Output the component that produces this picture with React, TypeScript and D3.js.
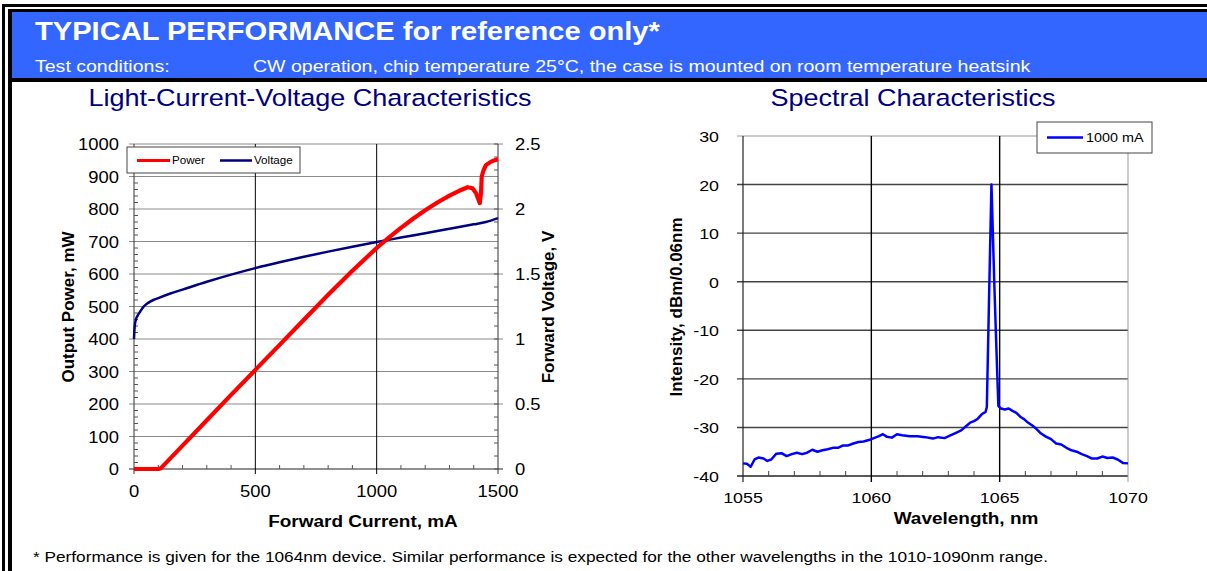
import React, { useEffect, useRef } from 'react';
import * as d3 from 'd3';

// L-I-V data
const currentMa = [0, 20, 50, 100, 110, 200, 300, 400, 500, 600, 700, 800, 900, 1000, 1050, 1100, 1150, 1200, 1250, 1300, 1340, 1375, 1395, 1410, 1425, 1430, 1433, 1440, 1450, 1470, 1490, 1500];
const powerMw = [0, 0, 0, 0, 2, 72, 150, 228, 305, 382, 459, 536, 610, 680, 712, 742, 770, 796, 820, 841, 856, 867, 864, 848, 818, 850, 900, 918, 935, 945, 951, 953];

const voltCurrentMa = [0, 3, 8, 15, 25, 40, 60, 80, 100, 150, 200, 300, 400, 500, 600, 700, 800, 900, 1000, 1100, 1200, 1300, 1400, 1450, 1500];
const voltageV = [1.0, 1.1, 1.15, 1.18, 1.21, 1.25, 1.28, 1.3, 1.315, 1.35, 1.38, 1.44, 1.495, 1.545, 1.59, 1.632, 1.672, 1.71, 1.746, 1.78, 1.814, 1.848, 1.882, 1.9, 1.93];

// spectrum at 1000 mA
const wavelengthNm = [1055.0, 1055.15, 1055.3, 1055.45, 1055.6, 1055.8, 1055.95, 1056.1, 1056.3, 1056.5, 1056.7, 1056.9, 1057.1, 1057.3, 1057.5, 1057.7, 1057.9, 1058.1, 1058.3, 1058.5, 1058.7, 1058.9, 1059.1, 1059.3, 1059.5, 1059.7, 1059.9, 1060.1, 1060.3, 1060.45, 1060.6, 1060.8, 1061.0, 1061.2, 1061.5, 1061.8, 1062.1, 1062.4, 1062.6, 1062.85, 1063.1, 1063.3, 1063.5, 1063.7, 1063.85, 1064.0, 1064.15, 1064.3, 1064.45, 1064.5, 1064.58, 1064.68, 1064.8, 1064.9, 1064.95, 1065.05, 1065.2, 1065.35, 1065.5, 1065.65, 1065.8, 1065.95, 1066.1, 1066.3, 1066.45, 1066.6, 1066.8, 1067.0, 1067.2, 1067.4, 1067.6, 1067.8, 1068.0, 1068.2, 1068.4, 1068.6, 1068.8, 1069.0, 1069.2, 1069.4, 1069.6, 1069.8, 1070.0];
const intensityDbm = [-37.4, -37.5, -38.1, -36.6, -36.2, -36.4, -36.9, -36.6, -35.4, -35.3, -35.9, -35.5, -35.2, -35.5, -35.2, -34.6, -35.0, -34.7, -34.5, -34.2, -34.2, -33.7, -33.7, -33.3, -33.0, -32.9, -32.6, -32.2, -31.8, -31.4, -31.9, -32.1, -31.4, -31.6, -31.8, -31.8, -32.0, -32.3, -32.0, -32.2, -31.6, -31.1, -30.6, -29.7, -29.0, -28.7, -28.2, -27.3, -26.8, -25.8, -5, 20, -2, -18, -25.6, -26.1, -26.3, -26.1, -26.6, -27.0, -27.8, -28.3, -29.0, -29.7, -30.4, -31.2, -31.9, -32.4, -33.3, -33.5, -34.2, -34.7, -35.0, -35.5, -35.9, -36.4, -36.4, -36.0, -36.3, -36.2, -36.6, -37.3, -37.4];

const powerTicks = [0, 100, 200, 300, 400, 500, 600, 700, 800, 900, 1000];
const voltTicks = [0, 0.5, 1, 1.5, 2, 2.5];
const currentTicks = [0, 500, 1000, 1500];
const dbmTicks = [30, 20, 10, 0, -10, -20, -30, -40];
const nmTicks = [1055, 1060, 1065, 1070];

const FONT = 'Arial, "Liberation Sans", sans-serif';
const SX = 1.15; // the picture's text is a bit wide

function txt(g, x, y, s, size, o: any = {}) {
  const rot = o.rot ? ` rotate(${o.rot})` : '';
  const sx = o.rot ? 1 : (o.sx ?? SX);
  return g.append('text')
    .attr('transform', `translate(${x},${y}) scale(${sx},1)${rot}`)
    .attr('font-family', FONT)
    .attr('font-size', size)
    .attr('font-weight', o.bold ? 'bold' : 'normal')
    .attr('fill', o.fill ?? '#000')
    .attr('text-anchor', o.anchor ?? 'start')
    .text(s);
}

function App() {
  const ref = useRef(null);

  useEffect(() => {
    const svg = d3.select(ref.current);
    svg.selectAll('*').remove();
    svg.append('rect').attr('width', 1207).attr('height', 571).attr('fill', '#fff');

    // header band and frame
    svg.append('rect').attr('x', 12).attr('y', 12).attr('width', 1195).attr('height', 66).attr('fill', '#3366FF');
    svg.append('rect').attr('x', 2).attr('y', 4).attr('width', 1205).attr('height', 3).attr('fill', '#000');
    svg.append('rect').attr('x', 8).attr('y', 9).attr('width', 1199).attr('height', 3).attr('fill', '#000');
    svg.append('rect').attr('x', 8).attr('y', 78).attr('width', 1199).attr('height', 4).attr('fill', '#000');
    svg.append('rect').attr('x', 2).attr('y', 4).attr('width', 3).attr('height', 567).attr('fill', '#000');
    svg.append('rect').attr('x', 8).attr('y', 9).attr('width', 4).attr('height', 562).attr('fill', '#000');

    txt(svg, 35, 40, 'TYPICAL PERFORMANCE for reference only*', 25.3, { bold: true, fill: '#fff' });
    txt(svg, 35, 72, 'Test conditions:', 17, { fill: '#fff' });
    txt(svg, 253, 72, 'CW operation, chip temperature 25°C, the case is mounted on room temperature heatsink', 17, { fill: '#fff' });

    txt(svg, 310, 106, 'Light-Current-Voltage Characteristics', 23.5, { fill: '#000080', anchor: 'middle' });
    txt(svg, 913, 106, 'Spectral Characteristics', 23.5, { fill: '#000080', anchor: 'middle' });

    txt(svg, 33, 562, '* Performance is given for the 1064nm device. Similar performance is expected for the other wavelengths in the 1010-1090nm range.', 15);

    // ---------- L-I-V chart ----------
    const x = d3.scaleLinear().domain([0, 1500]).range([134, 498]);
    const yP = d3.scaleLinear().domain([0, 1000]).range([469, 144]);
    const yV = d3.scaleLinear().domain([0, 2.5]).range([469, 144]);
    const g1 = svg.append('g');

    powerTicks.forEach((t) => {
      g1.append('line').attr('x1', x(0) - 5).attr('x2', x(1500) + (t % 200 === 0 ? 5 : 0))
        .attr('y1', yP(t)).attr('y2', yP(t)).attr('stroke', t === 0 ? '#222' : '#8a8a8a').attr('stroke-width', 1);
    });
    [500, 1000].forEach((t) => {
      g1.append('line').attr('x1', x(t)).attr('x2', x(t)).attr('y1', yP(1000)).attr('y2', yP(0) + 5)
        .attr('stroke', '#000').attr('stroke-width', 1);
    });
    // axes
    g1.append('line').attr('x1', x(0)).attr('x2', x(0)).attr('y1', yP(1000)).attr('y2', yP(0) + 5).attr('stroke', '#333');
    g1.append('line').attr('x1', x(1500)).attr('x2', x(1500)).attr('y1', yP(1000)).attr('y2', yP(0) + 5).attr('stroke', '#333');
    // minor ticks
    d3.range(0, 1001, 20).forEach((t) => {
      if (t % 100 !== 0) g1.append('line').attr('x1', x(0)).attr('x2', x(0) + 4).attr('y1', yP(t)).attr('y2', yP(t)).attr('stroke', '#555');
    });
    d3.range(0, 2.51, 0.1).forEach((t) => {
      g1.append('line').attr('x1', x(1500) - 4).attr('x2', x(1500)).attr('y1', yV(t)).attr('y2', yV(t)).attr('stroke', '#555');
    });
    d3.range(100, 1500, 100).forEach((t) => {
      if (t % 500 !== 0) g1.append('line').attr('x1', x(t)).attr('x2', x(t)).attr('y1', yP(0)).attr('y2', yP(0) - 4).attr('stroke', '#555');
    });

    powerTicks.forEach((t) => txt(g1, 119, yP(t) + 6, String(t), 16, { anchor: 'end' }));
    voltTicks.forEach((t) => txt(g1, 515, yV(t) + 6, String(t), 16));
    currentTicks.forEach((t) => txt(g1, x(t), 497, String(t), 16, { anchor: 'middle' }));

    txt(g1, 363, 527, 'Forward Current, mA', 16.5, { bold: true, anchor: 'middle' });
    txt(g1, 74, 307, 'Output Power, mW', 17, { bold: true, anchor: 'middle', rot: -90 });
    txt(g1, 554, 307, 'Forward Voltage, V', 17, { bold: true, anchor: 'middle', rot: -90 });

    const vLine = d3.line<number>().x((d, i) => x(voltCurrentMa[i])).y((d) => yV(d)).curve(d3.curveMonotoneX);
    g1.append('path').attr('d', vLine(voltageV)).attr('fill', 'none').attr('stroke', '#000080').attr('stroke-width', 2.5);
    const pLine = d3.line<number>().x((d, i) => x(currentMa[i])).y((d) => yP(d));
    g1.append('path').attr('d', pLine(powerMw)).attr('fill', 'none').attr('stroke', '#FF0000').attr('stroke-width', 4.2)
      .attr('stroke-linejoin', 'round');

    // legend
    g1.append('rect').attr('x', 127).attr('y', 147).attr('width', 173).attr('height', 26).attr('fill', '#fff').attr('stroke', '#444');
    g1.append('line').attr('x1', 137).attr('x2', 170).attr('y1', 160.5).attr('y2', 160.5).attr('stroke', '#FF0000').attr('stroke-width', 3);
    txt(g1, 172, 164, 'Power', 10.1);
    g1.append('line').attr('x1', 220).attr('x2', 252).attr('y1', 160.5).attr('y2', 160.5).attr('stroke', '#000080').attr('stroke-width', 2.5);
    txt(g1, 254, 164, 'Voltage', 10.1);

    // ---------- spectrum chart ----------
    const xs = d3.scaleLinear().domain([1055, 1070]).range([743, 1128]);
    const ys = d3.scaleLinear().domain([-40, 30]).range([476, 136]);
    const g2 = svg.append('g');

    dbmTicks.forEach((t) => {
      const top = t === 30;
      g2.append('line').attr('x1', xs(1055) - 6).attr('x2', xs(1070)).attr('y1', ys(t)).attr('y2', ys(t))
        .attr('stroke', top ? '#999' : t === -40 ? '#222' : '#444').attr('stroke-width', top ? 1 : 1.4);
    });
    g2.append('line').attr('x1', xs(1070)).attr('x2', xs(1070)).attr('y1', ys(30)).attr('y2', ys(-40) + 6).attr('stroke', '#999');
    [1060, 1065].forEach((t) => {
      g2.append('line').attr('x1', xs(t)).attr('x2', xs(t)).attr('y1', ys(30)).attr('y2', ys(-40) + 6).attr('stroke', '#000').attr('stroke-width', 1.4);
    });
    g2.append('line').attr('x1', xs(1055)).attr('x2', xs(1055)).attr('y1', ys(30)).attr('y2', ys(-40) + 6).attr('stroke', '#222').attr('stroke-width', 1.2);
    d3.range(1056, 1070, 1).forEach((t) => {
      if (t % 5 !== 0) g2.append('line').attr('x1', xs(t)).attr('x2', xs(t)).attr('y1', ys(-40)).attr('y2', ys(-40) - 5).attr('stroke', '#444');
    });

    dbmTicks.forEach((t) => txt(g2, 719, ys(t) + 6, String(t), 15.5, { anchor: 'end' }));
    nmTicks.forEach((t) => txt(g2, xs(t), 503, String(t), 15.5, { anchor: 'middle' }));

    txt(g2, 966, 524, 'Wavelength, nm', 16.5, { bold: true, anchor: 'middle' });
    txt(g2, 682, 307, 'Intensity, dBm/0.06nm', 17, { bold: true, anchor: 'middle', rot: -90 });

    const sLine = d3.line<number>().x((d, i) => xs(wavelengthNm[i])).y((d) => ys(d));
    g2.append('path').attr('d', sLine(intensityDbm)).attr('fill', 'none').attr('stroke', '#0000FF').attr('stroke-width', 2.5)
      .attr('stroke-linejoin', 'round');

    g2.append('rect').attr('x', 1037).attr('y', 122).attr('width', 115).attr('height', 31).attr('fill', '#fff').attr('stroke', '#444');
    g2.append('line').attr('x1', 1047).attr('x2', 1083).attr('y1', 137.5).attr('y2', 137.5).attr('stroke', '#0000FF').attr('stroke-width', 2.5);
    txt(g2, 1086, 142, '1000 mA', 12.5);
  }, []);

  return (
    <div style={{ position: 'absolute', left: 0, top: 0 }}>
      <svg ref={ref} width={1207} height={571} />
    </div>
  );
}

export default App;
